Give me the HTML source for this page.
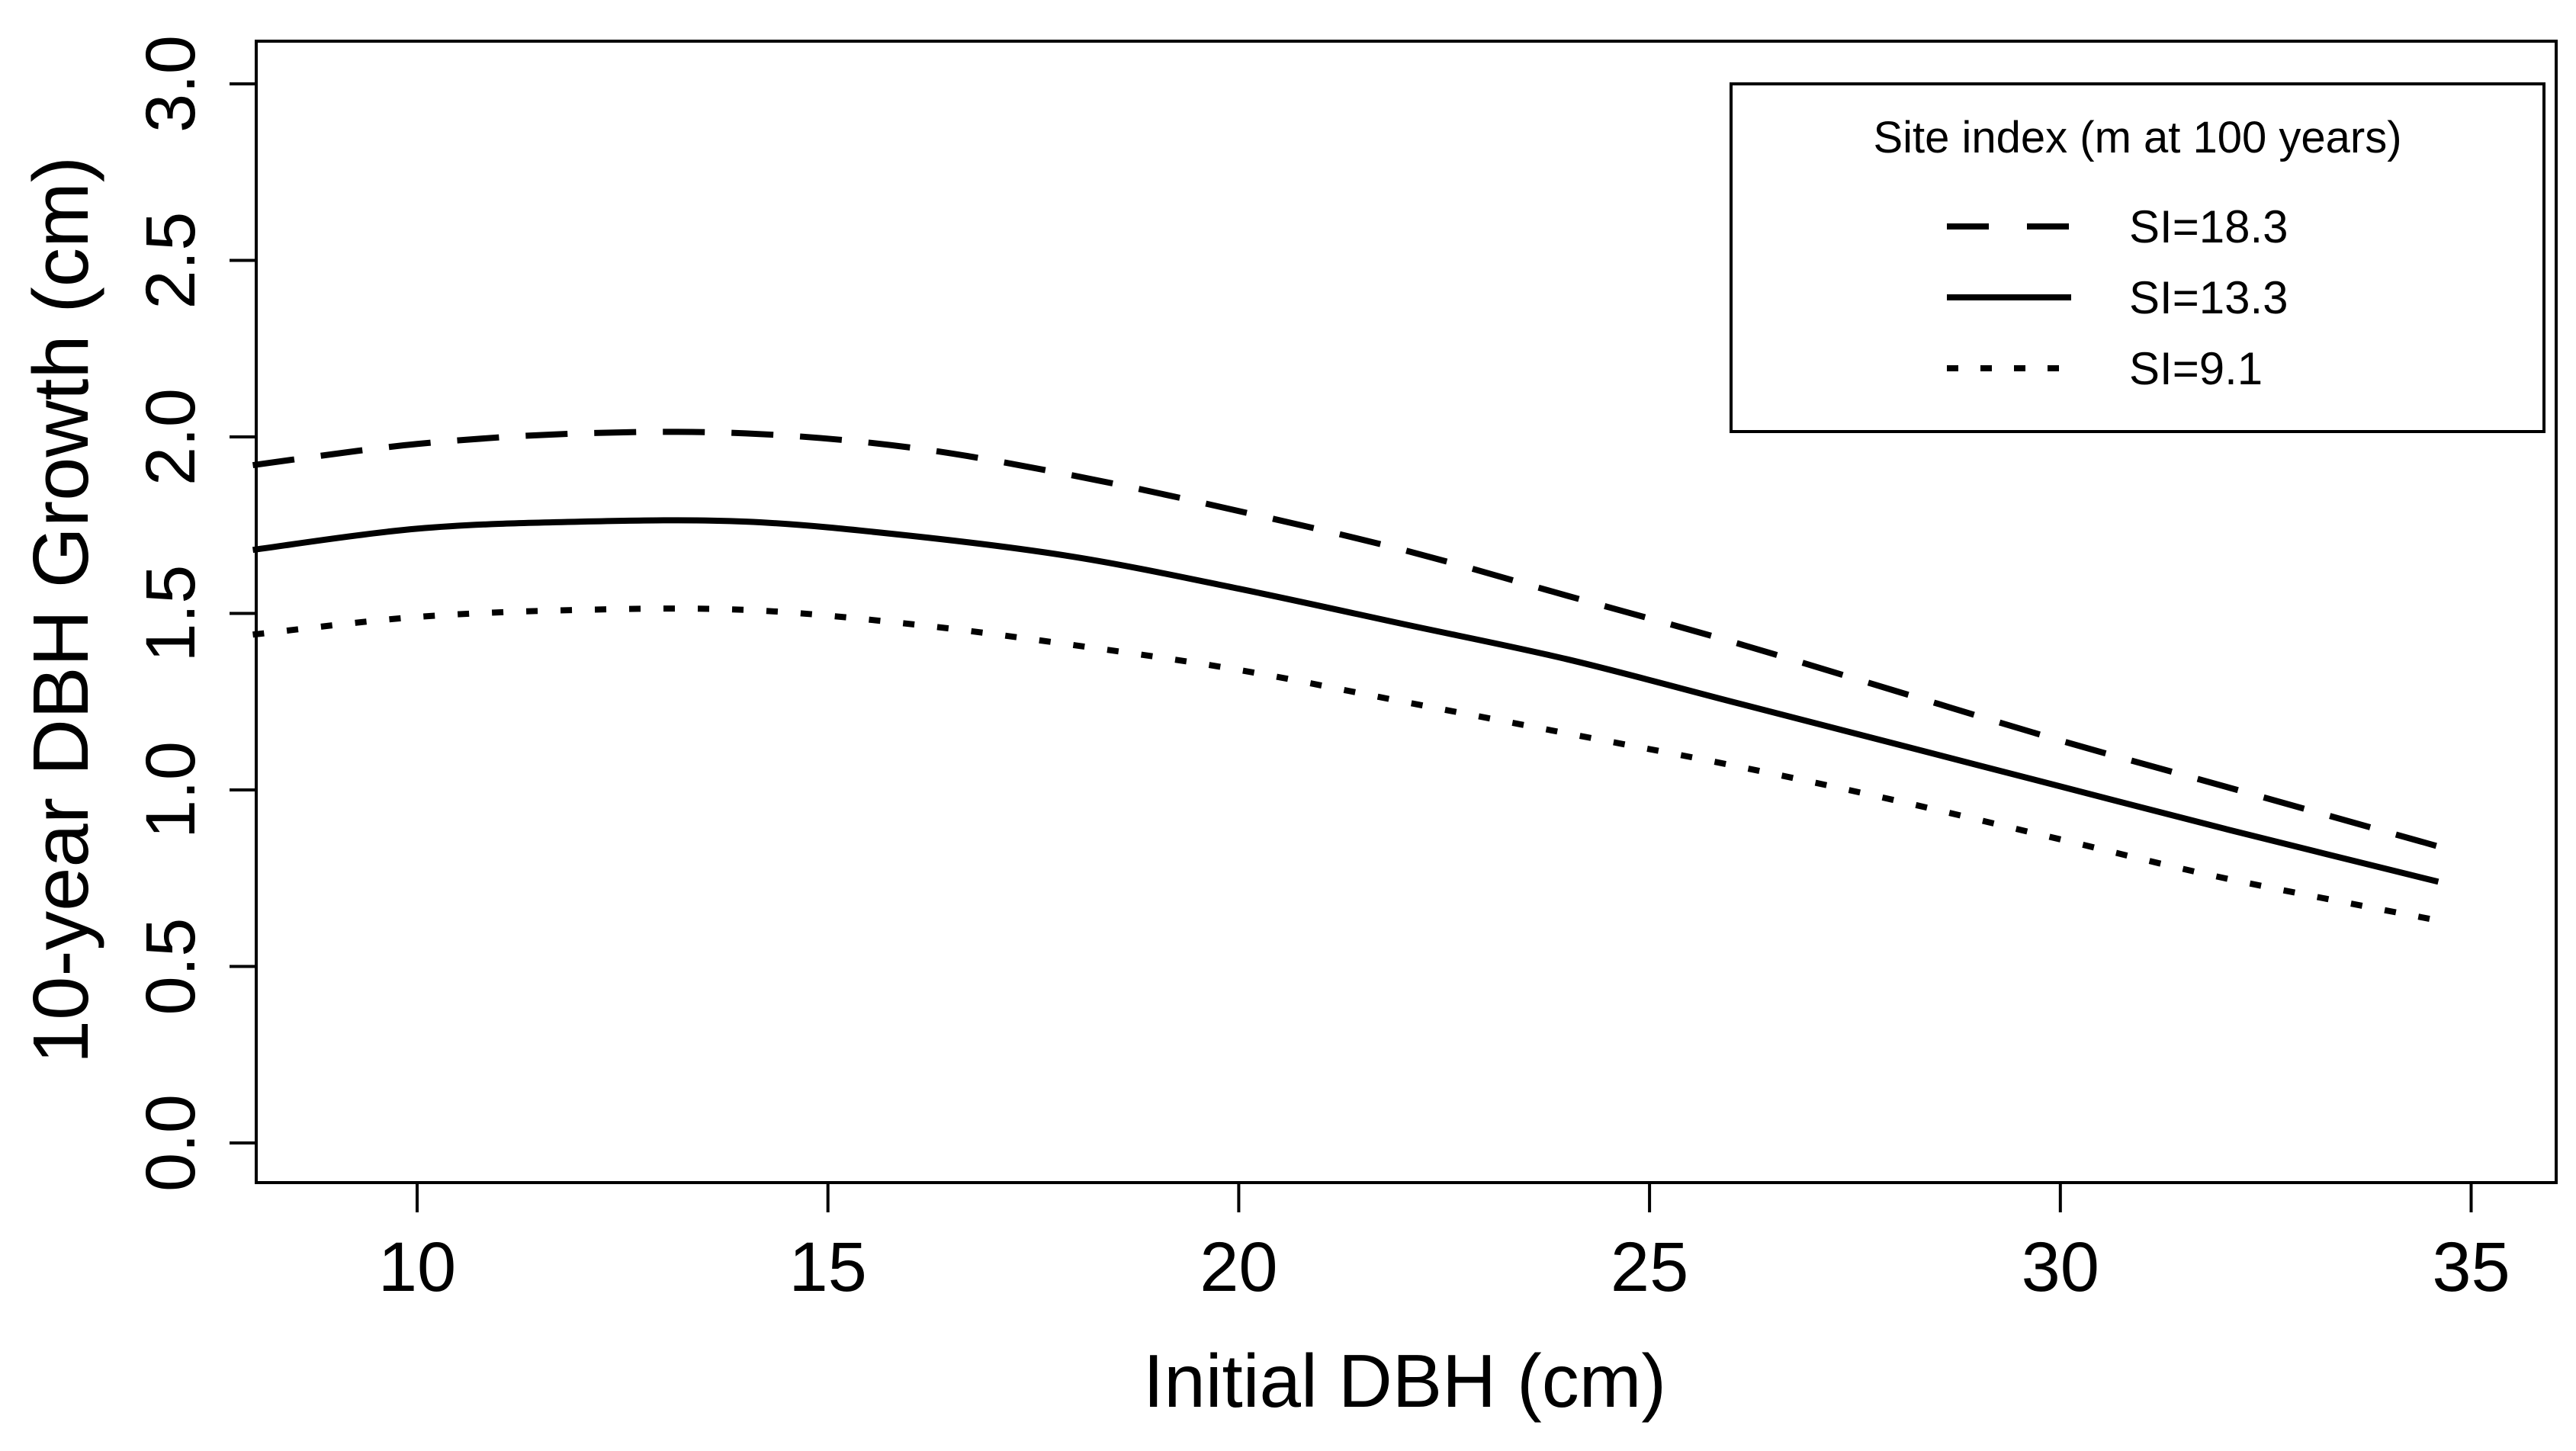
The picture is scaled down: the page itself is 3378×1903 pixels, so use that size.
<!DOCTYPE html>
<html><head><meta charset="utf-8"><style>
html,body{margin:0;padding:0;background:#fff;}
svg{display:block;font-family:"Liberation Sans",Arial,sans-serif;}
</style></head><body>
<svg id="chart" width="3378" height="1903" viewBox="0 0 3378 1903">
<rect x="0" y="0" width="3378" height="1903" fill="#fff"/>
<g id="axes"></g>
<g id="series"></g>
<rect x="336" y="54" width="3016" height="1497" fill="none" stroke="#000" stroke-width="4"/>
<text x="1842" y="1845" font-size="98" text-anchor="middle">Initial DBH (cm)</text>
<text transform="translate(115,800) rotate(-90)" font-size="103" text-anchor="middle">10-year DBH Growth (cm)</text>
<g>
<rect x="2270" y="110" width="1066" height="456" fill="#fff" stroke="#000" stroke-width="4"/>
<text x="2803" y="200" font-size="58" text-anchor="middle">Site index (m at 100 years)</text>
<line x1="2553" y1="297" x2="2713" y2="297" stroke="#000" stroke-width="8" stroke-dasharray="55,50"/>
<text x="2792" y="318" font-size="60">SI=18.3</text>
<line x1="2553" y1="390" x2="2716" y2="390" stroke="#000" stroke-width="8"/>
<text x="2792" y="411" font-size="60">SI=13.3</text>
<line x1="2553" y1="483" x2="2716" y2="483" stroke="#000" stroke-width="8" stroke-dasharray="15,29"/>
<text x="2792" y="504" font-size="60">SI=9.1</text>
</g>
</svg>
<script>
const xValues = [8, 10, 12, 14, 16, 18, 20, 22, 24, 26, 28, 30, 32, 34.6];
const si183 = [1.92, 1.98, 2.01, 2.01, 1.97, 1.89, 1.79, 1.68, 1.55, 1.42, 1.28, 1.14, 1.01, 0.84];
const si133 = [1.68, 1.74, 1.76, 1.76, 1.72, 1.66, 1.57, 1.47, 1.37, 1.25, 1.13, 1.01, 0.89, 0.74];
const si91 = [1.44, 1.49, 1.51, 1.51, 1.47, 1.41, 1.34, 1.25, 1.16, 1.07, 0.97, 0.86, 0.75, 0.63];
const xTicks = [10, 15, 20, 25, 30, 35];
const yTicks = ["0.0", "0.5", "1.0", "1.5", "2.0", "2.5", "3.0"];

const NS = "http://www.w3.org/2000/svg";
function xs(v){ return 547 + (v - 10) * 107.74; }
function ys(v){ return 1499 - v * 463; }
const axes = document.getElementById('axes');
const series = document.getElementById('series');
function mk(tag, attrs, parent){
  const e = document.createElementNS(NS, tag);
  for (const k in attrs) e.setAttribute(k, attrs[k]);
  parent.appendChild(e);
  return e;
}
xTicks.forEach(t => {
  const l = mk('line', {x1: xs(t), x2: xs(t), y1: 1551, y2: 1590, stroke: '#000', 'stroke-width': 4}, axes);
  
  
  const tx = mk('text', {x: xs(t), y: 1693, 'font-size': 92, 'text-anchor': 'middle'}, axes);
  tx.textContent = t;
  
  
});
yTicks.forEach(t => {
  const v = parseFloat(t);
  const l = mk('line', {x1: 301, x2: 336, y1: ys(v), y2: ys(v), stroke: '#000', 'stroke-width': 4}, axes);
  
  
  const tx = mk('text', {transform: 'translate(255,' + ys(v) + ') rotate(-90)', 'font-size': 92, 'text-anchor': 'middle'}, axes);
  tx.textContent = t;
  
  
});
function smoothPath(vals){
  const p = xValues.map((x, i) => [xs(x), ys(vals[i])]);
  let d = 'M' + p[0][0] + ',' + p[0][1];
  for (let i = 0; i < p.length - 1; i++){
    const p0 = p[i-1] || p[i], p1 = p[i], p2 = p[i+1], p3 = p[i+2] || p2;
    const c1 = [p1[0] + (p2[0]-p0[0])/6, p1[1] + (p2[1]-p0[1])/6];
    const c2 = [p2[0] - (p3[0]-p1[0])/6, p2[1] - (p3[1]-p1[1])/6];
    d += ' C' + c1[0] + ',' + c1[1] + ' ' + c2[0] + ',' + c2[1] + ' ' + p2[0] + ',' + p2[1];
  }
  return d;
}
const s1 = mk('path', {d: smoothPath(si183), fill: 'none', stroke: '#000', 'stroke-width': 8, 'stroke-dasharray': '55,35'}, series);


const s2 = mk('path', {d: smoothPath(si133), fill: 'none', stroke: '#000', 'stroke-width': 8}, series);


const s3 = mk('path', {d: smoothPath(si91), fill: 'none', stroke: '#000', 'stroke-width': 8, 'stroke-dasharray': '15,30'}, series);


</script>
</body></html>
